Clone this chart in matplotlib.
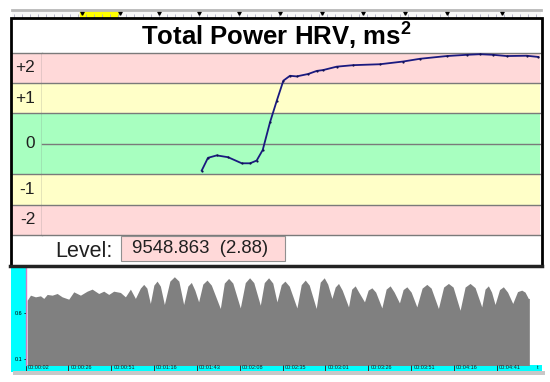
import numpy as np
import matplotlib
matplotlib.use('Agg')
import matplotlib.pyplot as plt
from matplotlib.patches import Rectangle
from matplotlib.transforms import blended_transform_factory

# ---------------------------------------------------------------------------
# Data
# ---------------------------------------------------------------------------
title = r'Total Power HRV, ms$^{\mathbf{2}}$'
band_labels = ['+2', '+1', '0', '-1', '-2']
band_label_pos = [2.5, 1.5, 0.0, -1.5, -2.5]
level_value = '9548.863  (2.88)'

# trend line (time in s, level in band units)
line_t = [106.5, 110.2, 115.4, 122.1, 130.2, 135.1, 139.0, 142.6, 146.9, 150.9,
          154.8, 158.7, 162.7, 169.5, 174.5, 178.4, 186.3, 196.2, 211.9, 225.7,
          235.6, 251.4, 263.2, 271.1, 278.9, 286.9, 298.7, 305.6]
line_v = [-0.88, -0.46, -0.38, -0.44, -0.64, -0.64, -0.55, -0.20, 0.71, 1.42,
          2.08, 2.24, 2.22, 2.30, 2.40, 2.43, 2.54, 2.59, 2.62, 2.71,
          2.80, 2.89, 2.93, 2.95, 2.93, 2.89, 2.90, 2.86]

# RR waveform envelope (time in s, amplitude)
env_t = [3.0, 4.96, 7.9, 10.87, 12.82, 14.83, 17.79, 20.75, 23.7, 27.6,
         30.57, 34.53, 38.49, 41.45, 45.35, 48.31, 51.27, 54.22, 58.18, 61.14,
         64.1, 67.05, 70.01, 71.97, 73.85, 75.9, 77.99, 79.88, 81.84, 84.2,
         87.46, 90.12, 92.78, 95.62, 98.1, 100.17, 102.24, 104.49, 106.97, 109.46,
         112.0, 117.33, 119.69, 122.24, 124.72, 129.15, 132.11, 134.65, 137.14, 141.0,
         143.35, 145.9, 148.38, 150.86, 153.41, 155.58, 158.13, 162.68, 165.23, 167.59,
         169.96, 174.1, 176.47, 178.83, 180.9, 183.39, 185.34, 187.29, 189.48, 193.21,
         195.1, 197.17, 199.24, 202.67, 204.85, 207.04, 209.29, 212.95, 215.5, 217.86,
         220.23, 223.37, 225.55, 227.74, 230.29, 233.66, 236.79, 239.57, 242.12, 246.43,
         249.51, 252.35, 255.13, 259.27, 262.23, 265.17, 268.13, 272.09, 274.05, 276.0,
         277.89, 279.96, 282.62, 284.87, 287.36, 290.43, 293.27, 295.76, 297.71, 299.66,
         300.26]
env_v = [0.737, 0.791, 0.773, 0.784, 0.756, 0.799, 0.791, 0.809, 0.773, 0.748,
         0.827, 0.791, 0.834, 0.856, 0.809, 0.834, 0.799, 0.834, 0.820, 0.773,
         0.856, 0.756, 0.867, 0.907, 0.867, 0.702, 0.899, 0.942, 0.888, 0.691,
         0.942, 0.989, 0.942, 0.691, 0.888, 0.928, 0.845, 0.719, 0.910, 0.953,
         0.899, 0.648, 0.921, 0.971, 0.921, 0.654, 0.926, 0.978, 0.926, 0.683,
         0.926, 0.978, 0.921, 0.719, 0.904, 0.942, 0.888, 0.654, 0.904, 0.953,
         0.899, 0.648, 0.931, 0.978, 0.910, 0.756, 0.878, 0.917, 0.845, 0.665,
         0.856, 0.891, 0.824, 0.719, 0.845, 0.870, 0.824, 0.654, 0.856, 0.891,
         0.824, 0.708, 0.851, 0.881, 0.824, 0.665, 0.867, 0.907, 0.867, 0.648,
         0.878, 0.917, 0.878, 0.629, 0.878, 0.917, 0.872, 0.665, 0.856, 0.891,
         0.824, 0.691, 0.851, 0.881, 0.824, 0.702, 0.829, 0.845, 0.824, 0.756,
         0.756]

time_labels = ['00:00:02', '00:00:26', '00:00:51', '00:01:16', '00:01:43', '00:02:08',
               '00:02:35', '00:03:01', '00:03:26', '00:03:51', '00:04:16', '00:04:41']
time_ticks = [2 + 25.36 * i for i in range(len(time_labels))]

ruler_marks = [35.7, 58.2, 81.2, 104.9, 128.6, 152.8, 177.6, 201.9, 226.7, 251.6, 284.1]

# ---------------------------------------------------------------------------
# Layout helpers (pixel boxes -> figure fractions)
# ---------------------------------------------------------------------------
W, H = 550, 382
def box(x0, y0, x1, y1):
    return [x0 / W, 1 - y1 / H, (x1 - x0) / W, (y1 - y0) / H]

def fx(x):
    return x / W

def fy(y):
    return 1 - y / H

def t_of(px):
    return 2 + (px - 25) * 0.5914

pink, yellow, green = '#ffd9d9', '#ffffc8', '#a8ffc0'
band_spans = [(2, 3, pink), (1, 2, yellow), (-1, 1, green), (-2, -1, yellow), (-3, -2, pink)]
font = 'Liberation Sans'
plt.rcParams['mathtext.fontset'] = 'custom'
plt.rcParams['mathtext.rm'] = font
plt.rcParams['mathtext.bf'] = font + ':bold'

fig = plt.figure(figsize=(5.5, 3.82), dpi=100)
fig.patch.set_facecolor('white')

# ---------------------------------------------------------------------------
# Ruler
# ---------------------------------------------------------------------------
ax_r = fig.add_axes(box(12, 10, 541, 17.5))
ax_r.set_facecolor('#f7f7f7')
ax_r.set_xlim(t_of(12), t_of(541))
ax_r.set_ylim(0, 1)
ax_r.axvspan(34.5, 57.0, ymin=0.1, ymax=0.9, color='#ffff00')
ax_r.plot(ruler_marks, [0.55] * len(ruler_marks), ls='none', marker='v',
          ms=2.5, color='black')
ax_r.set_xticks(np.arange(t_of(14), t_of(541), 4.75))
ax_r.tick_params(axis='x', direction='in', length=3, width=0.6, color='#a8a8c0',
                 labelbottom=False)
ax_r.set_yticks([])
for s in ['left', 'right', 'bottom']:
    ax_r.spines[s].set_visible(False)
ax_r.spines['top'].set_color('#b8b8b8')
ax_r.spines['top'].set_linewidth(2)

# ---------------------------------------------------------------------------
# Top panel: bands + trend
# ---------------------------------------------------------------------------
fig.text(fx(276), fy(45), title, ha='center', va='baseline', fontsize=18.5,
         fontweight='bold', family=font)

ax_l = fig.add_axes(box(11, 52.7, 42, 235))
ax_p = fig.add_axes(box(42, 52.7, 540, 235))
for a in (ax_l, ax_p):
    for lo, hi, c in band_spans:
        a.axhspan(lo, hi, color=c, lw=0)
    for yv in [3, 2, 1, 0, -1, -2, -3]:
        if a is ax_l and yv == 0:
            continue
        a.axhline(yv, color='#7a7a7a', lw=1, clip_on=False)
    a.set_ylim(-3, 3)
    a.set_xticks([])
    a.set_yticks([])
    for s in a.spines.values():
        s.set_visible(False)

ax_l.set_xlim(0, 1)
ax_l.axvline(1, color='#7a7a7a', lw=1)
for lab, yv in zip(band_labels, band_label_pos):
    ax_l.text(0.78, yv, lab, ha='right', va='center', fontsize=12.4,
              family=font, color='#202020')

ax_p.set_xlim(t_of(42), t_of(540))
ax_p.plot(line_t, line_v, color='#1a1a80', lw=1.3, marker='o', ms=1.6,
          markerfacecolor='#101050', markeredgewidth=0)

# level row
fig.text(fx(113), fy(256.7), 'Level:', ha='right', va='baseline', fontsize=15.5,
         family=font, color='#202020')
fig.patches.append(Rectangle((fx(121), fy(261)), (285 - 121) / W, (261 - 235.5) / H,
                             transform=fig.transFigure, facecolor=pink,
                             edgecolor='#909090', lw=0.8))
fig.text(fx(131.5), fy(253.3), level_value, ha='left', va='baseline', fontsize=13.4,
         family=font, color='#202020')

# frame around top panel
fig.patches.append(Rectangle((fx(10.5), fy(265.5)), 531 / W, 247 / H,
                             transform=fig.transFigure, fill=False,
                             edgecolor='black', lw=2))
fig.lines.append(plt.Line2D([fx(10), fx(542)], [fy(266), fy(266)],
                            transform=fig.transFigure, color='#222222', lw=2.5))

# ---------------------------------------------------------------------------
# Bottom panel: waveform
# ---------------------------------------------------------------------------
fig.patches.append(Rectangle((fx(13), fy(374.5)), 532 / W, 4 / H,
                             transform=fig.transFigure, color='#c8c8c8', lw=0))
ax_c = fig.add_axes(box(11, 267.5, 542, 372))
ax_c.set_facecolor('#00ffff')
ax_c.set_xticks([])
ax_c.set_yticks([])
for s in ax_c.spines.values():
    s.set_visible(False)

ax_w = fig.add_axes(box(25.5, 268, 541.7, 364.5))
ax_w.set_facecolor('white')
ax_w.set_xlim(t_of(25.5), t_of(541.7))
ax_w.set_ylim(0.046, 1.083)
ax_w.fill_between(env_t, 0, env_v, color='#808080', lw=0)
ax_w.set_xticks(time_ticks)
ax_w.tick_params(axis='x', direction='out', length=5, width=0.7, color='#303030',
                 labelbottom=False)
ax_w.set_yticks([0.1, 0.6])
ax_w.set_yticklabels(['0.1', '0.6'])
ax_w.tick_params(axis='y', direction='out', length=1.5, width=0.6, pad=0.5,
                 labelsize=4, color='black')
for lab in ax_w.get_yticklabels():
    lab.set_family(font)
for s in ['top', 'right', 'bottom']:
    ax_w.spines[s].set_visible(False)
ax_w.spines['left'].set_color('#d080c8')
ax_w.spines['left'].set_linewidth(1)

trans = blended_transform_factory(ax_w.transData, ax_w.transAxes)
for tt, lab in zip(time_ticks, time_labels):
    ax_w.text(tt + 1.3, -0.01, lab, transform=trans, ha='left', va='top',
              fontsize=4, family=font, color='#202020')
ax_w.text(t_of(537), -0.01, 't', transform=trans, ha='left', va='top',
          fontsize=4, family=font, color='#202020')

plt.savefig('out.png', dpi=100)
